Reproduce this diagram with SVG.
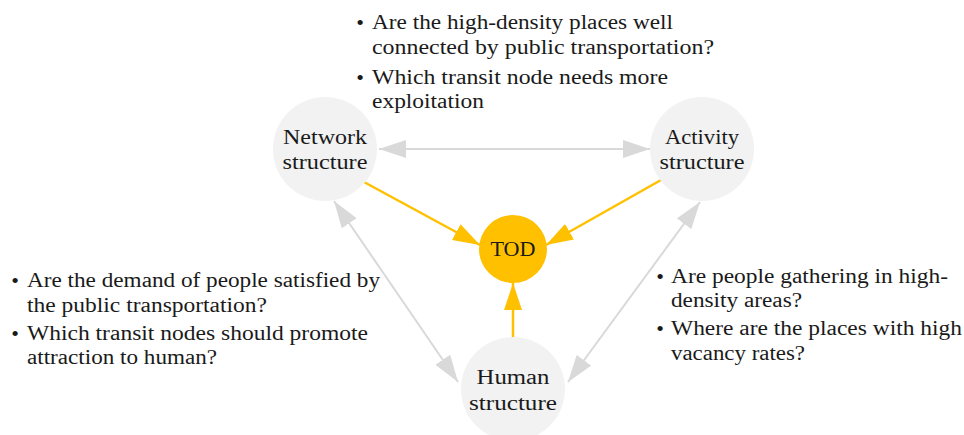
<svg xmlns="http://www.w3.org/2000/svg" width="964" height="435" viewBox="0 0 964 435">
<style>
.n{fill:#f2f2f2}
.t{fill:#ffc000}
.lbl{font-family:"Liberation Serif","DejaVu Serif",serif;font-size:20px;fill:#1a1a1a;text-anchor:middle}
.q{font-family:"Liberation Serif","DejaVu Serif",serif;font-size:20px;fill:#1a1a1a}
.b{font-family:"Liberation Serif","DejaVu Serif",serif;font-size:22px;fill:#1a1a1a;text-anchor:middle}
.g{stroke:#d9d9d9;stroke-width:2;fill:none}
.y{stroke:#ffc000;stroke-width:2.5;fill:none}
</style>
<defs>
<marker id="ag" viewBox="0 0 27 18" refX="27" refY="9" markerWidth="27" markerHeight="18" markerUnits="userSpaceOnUse" orient="auto-start-reverse"><path d="M0,0L27,9L0,18z" fill="#d9d9d9"/></marker>
<marker id="ay" viewBox="0 0 27 18" refX="27" refY="9" markerWidth="27" markerHeight="18" markerUnits="userSpaceOnUse" orient="auto"><path d="M0,0L27,9L0,18z" fill="#ffc000"/></marker>
</defs>
<g id="connectors">
<line class="g" x1="379" y1="149" x2="650" y2="149" marker-start="url(#ag)" marker-end="url(#ag)"/>
<line class="g" x1="334" y1="201" x2="458" y2="382" marker-start="url(#ag)" marker-end="url(#ag)"/>
<line class="g" x1="700" y1="202" x2="568" y2="382" marker-start="url(#ag)" marker-end="url(#ag)"/>
<line class="y" x1="364" y1="182" x2="480" y2="245" marker-end="url(#ay)"/>
<line class="y" x1="661" y1="180" x2="546" y2="245" marker-end="url(#ay)"/>
<line class="y" x1="513" y1="337" x2="513" y2="283" marker-end="url(#ay)"/>
</g>
<g id="network"><circle class="n" cx="325" cy="149" r="52"/><text class="lbl" x="325" y="144" textLength="84" lengthAdjust="spacingAndGlyphs">Network</text><text class="lbl" x="325" y="169" textLength="85" lengthAdjust="spacingAndGlyphs">structure</text></g>
<g id="activity"><circle class="n" cx="702" cy="149" r="52"/><text class="lbl" x="702" y="144" textLength="74" lengthAdjust="spacingAndGlyphs">Activity</text><text class="lbl" x="702" y="169" textLength="85" lengthAdjust="spacingAndGlyphs">structure</text></g>
<g id="tod"><circle class="t" cx="513" cy="249" r="34"/><text class="lbl" x="513" y="256" textLength="45" lengthAdjust="spacingAndGlyphs">TOD</text></g>
<g id="human"><circle class="n" cx="513" cy="389" r="52"/><text class="lbl" x="513" y="384" textLength="73" lengthAdjust="spacingAndGlyphs">Human</text><text class="lbl" x="513" y="410" textLength="88" lengthAdjust="spacingAndGlyphs">structure</text></g>
<g id="q-top" class="q">
<text class="b" x="360" y="30">•</text><text x="372" y="29" textLength="301" lengthAdjust="spacingAndGlyphs">Are the high-density places well</text>
<text x="372" y="54" textLength="342" lengthAdjust="spacingAndGlyphs">connected by public transportation?</text>
<text class="b" x="360" y="85">•</text><text x="372" y="84" textLength="296" lengthAdjust="spacingAndGlyphs">Which transit node needs more</text>
<text x="372" y="108" textLength="112" lengthAdjust="spacingAndGlyphs">exploitation</text>
</g>
<g id="q-left" class="q">
<text class="b" x="15" y="288">•</text><text x="27" y="287" textLength="353" lengthAdjust="spacingAndGlyphs">Are the demand of people satisfied by</text>
<text x="27" y="312" textLength="240" lengthAdjust="spacingAndGlyphs">the public transportation?</text>
<text class="b" x="15" y="341">•</text><text x="27" y="340" textLength="341" lengthAdjust="spacingAndGlyphs">Which transit nodes should promote</text>
<text x="27" y="364" textLength="190" lengthAdjust="spacingAndGlyphs">attraction to human?</text>
</g>
<g id="q-right" class="q">
<text class="b" x="660" y="284">•</text><text x="671" y="283" textLength="277" lengthAdjust="spacingAndGlyphs">Are people gathering in high-</text>
<text x="671" y="307" textLength="131" lengthAdjust="spacingAndGlyphs">density areas?</text>
<text class="b" x="660" y="336">•</text><text x="671" y="335" textLength="291" lengthAdjust="spacingAndGlyphs">Where are the places with high</text>
<text x="671" y="360" textLength="134" lengthAdjust="spacingAndGlyphs">vacancy rates?</text>
</g>
</svg>
